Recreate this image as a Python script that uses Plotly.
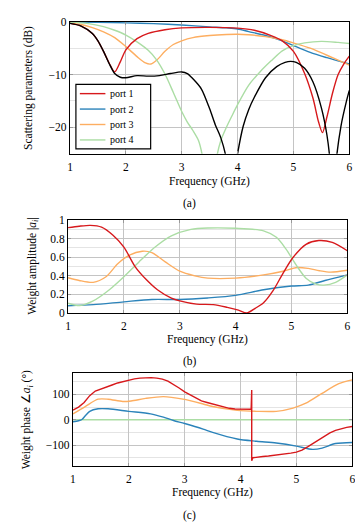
import plotly.graph_objects as go

# (a) scattering parameters, dB
s_port1_f = [1.0, 1.2, 1.4, 1.5, 1.6, 1.7, 1.8, 1.9, 2.0, 2.2, 2.4, 2.7, 3.0, 3.5, 4.0, 4.3, 4.6, 4.8,
             5.0, 5.2, 5.35, 5.45, 5.52, 5.6, 5.7, 5.8, 5.9, 6.0]
s_port1 = [-0.3, -0.8, -2.2, -3.6, -5.6, -7.8, -9.5, -7.6, -5.3, -3.2, -2.2, -1.5, -1.15, -1.05, -1.2,
           -1.6, -2.6, -3.6, -5.6, -9.8, -14.5, -19, -21, -18, -13.5, -10, -8, -6.5]
s_total_f = [1.0, 1.2, 1.4, 1.5, 1.6, 1.7, 1.8, 1.9, 2.0, 2.2, 2.4, 2.6, 2.8, 3.0, 3.1, 3.2, 3.35, 3.5,
             3.6, 3.7, 3.8, 3.85, 3.89, 3.93, 4.0, 4.1, 4.2, 4.3, 4.5, 4.7, 4.85, 4.95, 5.05, 5.2, 5.35,
             5.5, 5.6, 5.66, 5.71, 5.76, 5.85, 5.95, 6.0]
s_total = [-0.3, -0.8, -2.2, -3.6, -5.6, -7.9, -9.8, -10.5, -10.6, -10.2, -10.3, -10.2, -9.8, -9.5,
           -9.8, -10.8, -12.7, -16.5, -19.5, -22, -26, -30, -40, -30, -25, -19.8, -16.6, -14.3, -10.6,
           -8.5, -7.7, -7.5, -7.7, -8.8, -11.4, -16.3, -21.5, -27, -40, -27, -19.8, -15, -13]
s_port2_f = [1.0, 1.5, 2.0, 2.5, 3.0, 3.5, 3.8, 4.0, 4.2, 4.5, 4.8, 5.0, 5.3, 5.6, 6.0]
s_port2 = [-0.02, -0.08, -0.2, -0.35, -0.6, -0.95, -1.15, -1.35, -1.85, -2.6, -3.6, -4.5, -5.8, -6.8, -8.0]
s_port3_f = [1.0, 1.2, 1.4, 1.6, 1.8, 2.0, 2.2, 2.35, 2.45, 2.55, 2.7, 2.85, 3.0, 3.2, 3.5, 3.8, 4.0,
             4.2, 4.5, 4.8, 5.0, 5.3, 5.7, 6.0]
s_port3 = [-0.2, -0.5, -1.1, -1.9, -3.0, -4.7, -6.6, -7.8, -8.0, -7.3, -5.6, -4.3, -3.6, -3.0, -2.6,
           -2.4, -2.35, -2.45, -2.8, -3.4, -4.0, -5.0, -6.8, -8.2]
s_port4_f = [1.0, 1.3, 1.6, 1.8, 2.0, 2.2, 2.4, 2.55, 2.7, 2.85, 3.0, 3.1, 3.2, 3.3, 3.38, 3.45, 3.5,
             3.55, 3.62, 3.7, 3.8, 3.9, 4.0, 4.2, 4.4, 4.6, 4.8, 5.0, 5.2, 5.5, 5.8, 6.0]
s_port4 = [-0.05, -0.3, -0.9, -1.6, -2.5, -3.8, -5.4, -7.2, -9.9, -13.4, -17, -19, -20.6, -22.5, -26,
           -32, -40, -32, -26, -22.5, -20, -17.8, -15.7, -12, -9.5, -7.4, -5.5, -4.5, -4.0, -3.7, -3.9, -4.1]

# (b) weight amplitude |a_i|
amp1_f = [1.0, 1.2, 1.4, 1.6, 1.8, 2.0, 2.2, 2.4, 2.6, 2.85, 3.0, 3.3, 3.6, 3.85, 4.05, 4.2, 4.35, 4.5,
          4.67, 4.85, 5.03, 5.26, 5.49, 5.73, 6.0]
amp1 = [0.92, 0.935, 0.944, 0.925, 0.84, 0.71, 0.5, 0.36, 0.25, 0.16, 0.13, 0.095, 0.09, 0.06, 0.03,
        0.0, 0.05, 0.11, 0.24, 0.43, 0.6, 0.74, 0.78, 0.76, 0.67]
amp2_f = [1.0, 1.45, 2.0, 2.5, 3.0, 3.5, 4.0, 4.5, 5.0, 5.3, 5.6, 6.0]
amp2 = [0.078, 0.09, 0.12, 0.145, 0.145, 0.162, 0.19, 0.25, 0.29, 0.30, 0.35, 0.41]
amp3_f = [1.0, 1.2, 1.45, 1.68, 1.89, 2.09, 2.33, 2.5, 2.74, 3.0, 3.27, 3.5, 4.0, 4.5, 4.85, 5.1, 5.3,
          5.5, 5.7, 6.0]
amp3 = [0.38, 0.35, 0.33, 0.39, 0.53, 0.62, 0.665, 0.65, 0.55, 0.45, 0.40, 0.375, 0.375, 0.41, 0.45,
        0.49, 0.48, 0.455, 0.44, 0.46]
amp4_f = [1.0, 1.21, 1.45, 1.74, 2.0, 2.27, 2.56, 2.85, 3.2, 3.5, 4.0, 4.5, 4.73, 4.9, 5.08, 5.26, 5.44,
          5.58, 5.79, 6.0]
amp4 = [0.105, 0.08, 0.13, 0.25, 0.39, 0.55, 0.71, 0.83, 0.9, 0.915, 0.912, 0.885, 0.815, 0.69, 0.52,
        0.375, 0.31, 0.30, 0.33, 0.41]

# (c) weight phase, degrees
ph1_f = [1.0, 1.1, 1.2, 1.3, 1.4, 1.5, 1.6, 1.7, 1.8, 1.9, 2.0, 2.1, 2.2, 2.3, 2.4, 2.5, 2.6, 2.7, 2.8,
         2.9, 3.0, 3.1, 3.2, 3.3, 3.4, 3.5, 3.6, 3.7, 3.8, 3.9, 4.0, 4.1, 4.19, 4.2, 4.2, 4.22, 4.3,
         4.4, 4.5, 4.6, 4.7, 4.8, 4.9, 5.0, 5.1, 5.2, 5.3, 5.4, 5.5, 5.6, 5.7, 5.8, 5.9, 6.0]
ph1 = [38, 50, 68, 95, 113, 122, 130, 137, 145, 151, 157, 161, 164, 166, 166, 164, 160, 152, 140, 125,
       110, 97, 85, 74, 68, 62, 55, 49, 45, 42, 41, 40, 41, 117, -162, -150, -147, -145, -143, -141,
       -138, -135, -132, -128, -120, -107, -93, -80, -66, -52, -42, -35, -30, -27]
ph2_f = [1.0, 1.1, 1.16, 1.23, 1.3, 1.45, 1.63, 2.0, 2.39, 2.62, 2.8, 3.0, 3.33, 3.5, 3.94, 4.29,
         4.64, 5.0, 5.29, 5.46, 5.7, 6.0]
ph2 = [-8, -4, 1, 18, 33, 43, 43, 33, 23, 10, -3, -15, -37, -50, -76, -85, -92, -104, -117, -112, -94, -90]
ph3_f = [1.0, 1.22, 1.45, 1.63, 1.89, 2.04, 2.3, 2.62, 2.97, 3.33, 3.5, 3.94, 4.29, 4.64, 4.94, 5.17,
         5.46, 5.76, 6.0]
ph3 = [23, 52, 81, 81, 72, 74, 84, 91, 81, 62, 52, 37, 33, 33, 46, 65, 104, 142, 157]
ph4_f = [1.0, 6.0]
ph4 = [0, 0]

legend_names = ["port 1", "port 2", "port 3", "port 4"]

RED, BLUE, ORANGE, GREEN = "#d7191c", "#2b83ba", "#fdae61", "#abdda4"
legend_colors = [RED, BLUE, ORANGE, GREEN]
FONT = "Liberation Serif, Times New Roman, Times, serif"
W, H = 363, 522

fig = go.Figure()


def line(x, y, color, name=None, xa="x", ya="y", shape="spline"):
    fig.add_trace(go.Scatter(
        x=x, y=y, mode="lines", name=name, showlegend=False,
        line=dict(color=color, width=1.4, shape=shape, smoothing=0.8 if shape == "spline" else None),
        xaxis=xa, yaxis=ya, hoverinfo="skip",
    ))


line(s_port2_f, s_port2, BLUE, legend_names[1])
line(s_port3_f, s_port3, ORANGE, legend_names[2])
line(s_port4_f, s_port4, GREEN, legend_names[3])
line(s_port1_f, s_port1, RED, legend_names[0])
line(s_total_f, s_total, "black")

line(amp2_f, amp2, BLUE, xa="x2", ya="y2")
line(amp3_f, amp3, ORANGE, xa="x2", ya="y2")
line(amp4_f, amp4, GREEN, xa="x2", ya="y2")
line(amp1_f, amp1, RED, xa="x2", ya="y2")

line(ph4_f, ph4, GREEN, xa="x3", ya="y3", shape="linear")
line(ph2_f, ph2, BLUE, xa="x3", ya="y3")
line(ph3_f, ph3, ORANGE, xa="x3", ya="y3")
line(ph1_f, ph1, RED, xa="x3", ya="y3", shape="linear")


def px_x(a, b):
    return [a / W, b / W]


def px_y(top, bottom):
    return [1 - bottom / H, 1 - top / H]


axis_common = dict(
    showline=True, linecolor="black", linewidth=1.2, mirror="ticks",
    ticks="inside", ticklen=3, tickcolor="#999", tickwidth=1,
    gridcolor="#c4c4c4", gridwidth=1.3, zeroline=False,
    tickfont=dict(family=FONT, size=11.5, color="black"),
)
xaxis_common = dict(axis_common, range=[1, 6], tickvals=[1, 2, 3, 4, 5, 6], ticklabelstandoff=2)

fig.update_layout(
    width=W, height=H, autosize=False,
    margin=dict(l=0, r=0, t=0, b=0),
    paper_bgcolor="white", plot_bgcolor="white",
    font=dict(family=FONT, size=11, color="black"),
    showlegend=False,
    xaxis=dict(xaxis_common, domain=px_x(60, 344), anchor="y"),
    yaxis=dict(axis_common, domain=px_y(8, 143), anchor="x", range=[-25, 0], tickvals=[-20, -10, 0],
               minor=dict(dtick=5, tick0=0, showgrid=True, gridcolor="#e4e4e4", gridwidth=1, ticks="")),
    xaxis2=dict(xaxis_common, domain=px_x(58, 342), anchor="y2"),
    yaxis2=dict(axis_common, domain=px_y(211, 306), anchor="x2", range=[0, 1], dtick=0.2,
                minor=dict(dtick=0.1, tick0=0, showgrid=True, gridcolor="#e4e4e4", gridwidth=1, ticks="")),
    xaxis3=dict(xaxis_common, domain=px_x(63, 347), anchor="y3"),
    yaxis3=dict(axis_common, domain=px_y(367, 463), anchor="x3", range=[-184, 186], tickvals=[-100, 0, 100],
                minor=dict(dtick=50, tick0=0, showgrid=True, gridcolor="#e4e4e4", gridwidth=1, ticks="")),
)

# legend box of panel (a), drawn in pixel positions to get pgfplots-like compact rows
fig.add_shape(type="rect", xref="paper", yref="paper",
              x0=66 / W, x1=142 / W, y0=1 - 138 / H, y1=1 - 72 / H,
              fillcolor="white", line=dict(color="black", width=1.2), layer="above")
for i, (nm, c) in enumerate(zip(legend_names, legend_colors)):
    yp = 81.5 + i * 15.8
    fig.add_shape(type="line", xref="paper", yref="paper",
                  x0=70 / W, x1=96 / W, y0=1 - yp / H, y1=1 - yp / H,
                  line=dict(color=c, width=1.4), layer="above")
    fig.add_annotation(text=nm, x=99 / W, y=1 - yp / H, xref="paper", yref="paper",
                       showarrow=False, xanchor="left", yanchor="middle",
                       font=dict(family=FONT, size=10, color="black"))

annotations = [
    ("Frequency (GHz)", 202, 171, 0), ("(a)", 182, 194, 0),
    ("Frequency (GHz)", 200, 333, 0), ("(b)", 182, 356, 0),
    ("Frequency (GHz)", 205, 490, 0), ("(c)", 182, 513, 0),
    ("Scattering parameters (dB)", 18, 76, -90),
    ("Weight amplitude |<i>a<sub>i</sub></i>|", 22, 258, -90),
    ("Weight phase \u2220<i>a<sub>i</sub></i> (\u00b0)", 17, 415, -90),
]
for text, xp, yp, ang in annotations:
    fig.add_annotation(text=text, x=xp / W, y=1 - yp / H, xref="paper", yref="paper",
                       showarrow=False, textangle=ang, xanchor="center", yanchor="middle",
                       font=dict(family=FONT, size=11.5, color="black"))

fig.write_html("out.html")
